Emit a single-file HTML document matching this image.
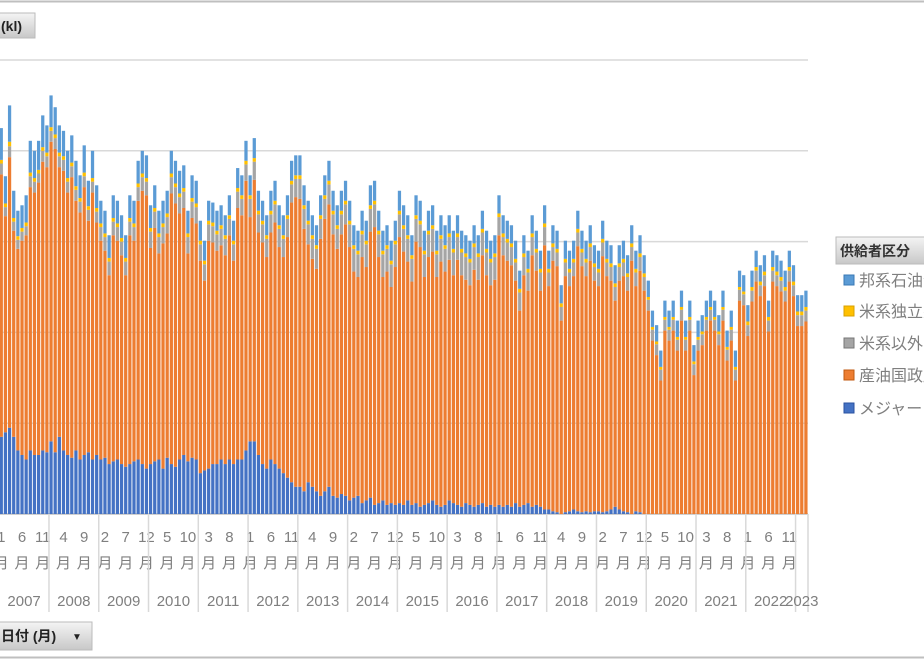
<!DOCTYPE html>
<html><head><meta charset="utf-8"><style>
html,body{margin:0;padding:0;background:#fff;width:924px;height:660px;overflow:hidden}
svg{display:block;font-family:"Liberation Sans","Noto Sans CJK JP",sans-serif}
</style></head><body>
<svg id="chart" width="924" height="660" viewBox="0 0 924 660">
<defs><linearGradient id="btn" x1="0" y1="0" x2="0" y2="1"><stop offset="0" stop-color="#f4f4f4"/><stop offset="1" stop-color="#c8c8c8"/></linearGradient></defs>
<line x1="0" y1="1.5" x2="924" y2="1.5" stroke="#bfbfbf" stroke-width="2"/>
<line x1="0" y1="657.5" x2="924" y2="657.5" stroke="#bfbfbf" stroke-width="2"/>
<g><rect x="-5" y="13" width="40" height="25" fill="url(#btn)" stroke="#bbb"/><text x="1" y="31" font-size="14" font-weight="bold" fill="#222">(kl)</text></g>
<g id="grid"></g>
<g id="bars"></g>
<g id="xaxis"></g>
<g>
<rect x="836" y="237" width="95" height="27" fill="url(#btn)" stroke="#bbb"/>
<text x="840" y="256" font-size="14" font-weight="bold" fill="#333">供給者区分</text>
<g><rect x="844" y="275" width="10" height="10" fill="#5B9BD5" stroke="#3a78b5"/><text x="859" y="286" font-size="16" fill="#7f7f7f">邦系石油会社</text></g>
<g><rect x="844" y="306" width="10" height="10" fill="#FFC000" stroke="#d8a000"/><text x="859" y="317" font-size="16" fill="#7f7f7f">米系独立系</text></g>
<g><rect x="844" y="338" width="10" height="10" fill="#A5A5A5" stroke="#777"/><text x="859" y="349" font-size="16" fill="#7f7f7f">米系以外</text></g>
<g><rect x="844" y="370" width="10" height="10" fill="#ED7D31" stroke="#c05a10"/><text x="859" y="381" font-size="16" fill="#7f7f7f">産油国政府</text></g>
<g><rect x="844" y="403" width="10" height="10" fill="#4472C4" stroke="#2a52a0"/><text x="859" y="414" font-size="16" fill="#7f7f7f">メジャー</text></g>
</g>
<g><rect x="-5" y="622" width="97" height="28" fill="url(#btn)" stroke="#bbb"/><text x="1" y="641" font-size="14" font-weight="bold" fill="#222">日付 (月)</text><text x="72" y="640" font-size="10" fill="#222">▼</text></g>
</svg>
<script>
const startYear = 2007;
const years = [2007,2008,2009,2010,2011,2012,2013,2014,2015,2016,2017,2018,2019,2020,2021,2022,2023];
const majors = [85,90,95,85,70,65,60,70,65,65,70,68, 80,68,85,70,65,62,70,60,65,68,60,65, 60,62,55,58,60,55,52,55,58,60,55,50, 55,58,60,50,62,55,52,60,65,58,62,60, 45,48,50,55,55,60,55,60,55,60,60,70, 80,80,65,55,50,60,55,50,45,40,35,30, 30,25,35,30,25,20,25,30,20,18,22,20, 15,18,20,12,15,18,10,12,15,10,12,10, 12,10,15,10,12,8,10,12,15,10,8,10, 15,12,10,8,12,10,8,10,12,8,10,8, 10,8,10,8,12,8,10,12,8,10,8,5, 5,3,2,0,2,3,5,3,2,3,2,3, 3,2,3,5,8,5,3,2,0,3,2,0, 0,0,0,0,0,0,0,0,0,0,0,0, 0,0,0,0,0,0,0,0,0,0,0,0, 0,0,0,0,0,0,0,0,0,0,0,0, 0,0,0];
const producerGov = [289,238,298,227,222,236,247,290,289,300,318,314, 330,334,297,308,289,309,275,272,295,255,294,256, 241,228,208,249,241,230,211,252,243,285,301,301, 238,257,227,248,247,298,290,271,272,229,264,260, 234,209,251,244,235,236,230,247,224,277,269,297, 247,288,245,244,233,250,266,244,238,265,308,319, 317,289,262,251,245,283,300,311,288,274,286,299, 279,249,241,271,257,293,306,271,246,257,238,262, 293,279,263,246,288,286,251,271,274,251,270,257, 265,251,270,255,246,242,261,248,273,255,242,250, 297,277,269,266,245,216,253,234,277,258,238,291, 246,276,271,213,260,248,257,292,271,259,277,254, 248,282,259,252,227,252,259,244,279,248,266,246, 224,191,175,147,202,191,202,180,213,180,202,153, 180,186,202,213,202,186,213,169,191,147,235,230, 196,234,256,240,251,201,256,251,245,234,256,240, 207,207,212];
const nonUS = [12,10,12,10,10,10,10,12,12,10,12,12, 12,12,12,12,12,12,12,12,12,12,12,12, 15,15,15,15,15,15,15,15,15,15,15,15, 18,18,18,18,18,18,18,18,18,18,18,18, 18,18,18,18,18,18,18,18,18,18,18,18, 20,20,20,20,20,20,20,20,20,20,20,20, 22,22,22,22,22,22,22,22,22,22,22,22, 25,25,25,25,25,25,25,25,25,25,25,25, 25,25,25,25,25,25,25,25,25,25,25,25, 25,25,25,25,25,25,25,25,25,25,25,25, 20,20,20,20,20,20,20,20,20,20,20,20, 15,15,15,15,15,15,15,15,15,15,15,15, 15,15,15,15,15,15,15,15,15,15,15,15, 12,12,12,12,12,12,12,12,12,12,12,12, 12,12,12,12,12,12,12,12,12,12,12,12, 12,12,12,12,12,12,12,12,12,12,12,12, 12,12,12];
const usIndependent = [4,4,5,4,4,4,4,4,4,4,4,4, 4,4,4,4,4,4,4,4,4,4,4,4, 4,4,4,4,4,4,4,4,4,4,4,4, 4,4,4,4,4,4,4,4,4,4,4,4, 4,4,4,4,4,4,4,4,4,4,4,4, 4,4,4,4,4,4,4,4,4,4,4,4, 4,4,4,4,4,4,4,4,4,4,4,4, 4,4,4,4,4,4,4,4,4,4,4,4, 4,4,4,4,4,4,4,4,4,4,4,4, 4,4,4,4,4,4,4,4,4,4,4,4, 4,4,4,4,4,4,4,4,4,4,4,4, 4,4,4,4,4,4,4,4,4,4,4,4, 4,4,4,4,4,4,4,4,4,4,4,4, 3,3,3,3,3,3,3,3,3,3,3,3, 3,3,3,3,3,3,3,3,3,3,3,3, 4,4,4,4,4,4,4,4,4,4,4,4, 4,4,4];
const japanese = [35,30,40,30,28,25,30,35,30,32,35,30, 35,30,30,28,30,30,28,25,30,28,30,25, 25,25,25,25,25,25,25,25,25,25,25,25, 25,25,25,25,25,25,25,25,25,25,25,25, 22,22,22,22,22,22,22,22,22,22,22,22, 22,22,22,22,22,22,22,22,22,22,22,22, 22,22,22,22,22,22,22,22,22,22,22,22, 22,22,22,22,22,22,22,22,22,22,22,22, 22,22,22,22,22,22,22,22,22,22,22,22, 20,20,20,20,20,20,20,20,20,20,20,20, 20,20,20,20,20,20,20,20,20,20,20,20, 20,20,20,20,20,20,20,20,20,20,20,20, 20,20,20,20,20,20,20,20,20,20,20,20, 18,18,18,18,18,18,18,18,18,18,18,18, 18,18,18,18,18,18,18,18,18,18,18,18, 18,18,18,18,18,18,18,18,18,18,18,18, 18,18,18];
const gridValues = [0,100,200,300,400,500];
const tickLabelStep = 5;

const NS = "http://www.w3.org/2000/svg";
const plotLeft = -0.8, plotRight = 808, baseY = 514, topY = 60, yMax = 500;
const nMonths = majors.length;
const mw = (plotRight - plotLeft) / nMonths;
const xPos = i => plotLeft + i * mw;
const yScale = v => baseY - v / yMax * (baseY - topY);
function mk(tag, attrs, parent){const e=document.createElementNS(NS,tag);for(const k in attrs)e.setAttribute(k,attrs[k]);parent.appendChild(e);return e;}

const grid = document.getElementById('grid');
gridValues.forEach(v=>{
  const l = mk('line',{x1:0,x2:plotRight,y1:yScale(v),y2:yScale(v),stroke:v===0?'#bfbfbf':'#d9d9d9','stroke-width':1.5},grid);
  
  
});

const bars = document.getElementById('bars');
const series = [
  {vals:majors,color:'#4472C4',name:'majors'},
  {vals:producerGov,color:'#ED7D31',name:'producer-gov'},
  {vals:nonUS,color:'#A5A5A5',name:'non-us'},
  {vals:usIndependent,color:'#FFC000',name:'us-independent'},
  {vals:japanese,color:'#5B9BD5',name:'japanese'}
];
for(let i=0;i<nMonths;i++){
  let acc=0;
  series.forEach(s=>{
    const v=s.vals[i]; if(!v){return;}
    const y1=yScale(acc), y2=yScale(acc+v);
    const r=mk('rect',{x:xPos(i)+0.45,y:y2,width:mw-0.9,height:y1-y2,fill:s.color},bars);
    
    
    acc+=v;
  });
}

const xa = document.getElementById('xaxis');
for(let i=0;i<nMonths;i+=tickLabelStep){
  const m=(i%12)+1, cx=xPos(i)+mw/2;
  const t=mk('text',{x:cx,y:542,'font-size':15,fill:'#7f7f7f','text-anchor':'middle'},xa);
  t.textContent=String(m);
  
  
  const t2=mk('text',{x:cx,y:568,'font-size':15,fill:'#7f7f7f','text-anchor':'middle'},xa);
  t2.textContent='月';
  
  
}
years.forEach((yr,k)=>{
  const s=k*12, e=Math.min(nMonths,s+12);
  const x1=xPos(s), x2=xPos(e);
  const sep=mk('line',{x1:x2,x2:x2,y1:baseY,y2:612,stroke:'#d9d9d9','stroke-width':1.5},xa);
  
  
  const t=mk('text',{x:(x1+x2)/2,y:606,'font-size':15,fill:'#7f7f7f','text-anchor':'middle'},xa);
  t.textContent=String(yr);
  
  
});
</script>
</body></html>
